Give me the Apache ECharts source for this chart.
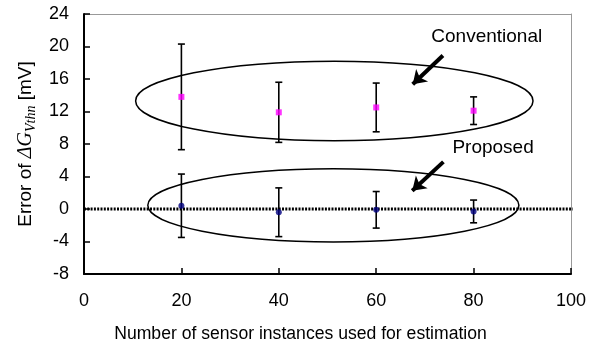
<!DOCTYPE html>
<html>
<head>
<meta charset="utf-8">
<script src="https://cdn.jsdelivr.net/npm/echarts@6/dist/echarts.min.js"></script>
<style>
  html, body { margin: 0; padding: 0; background: #fff; }
  #chart { width: 608px; height: 349px; }
</style>
</head>
<body>
<div id="chart"></div>
<script>
// data
var xCounts = [20, 40, 60, 80];
var convMean = [13.8, 11.9, 12.5, 12.1];
var convErr = [6.5, 3.7, 3.0, 1.7];
var propMean = [0.4, -0.4, -0.1, -0.3];
var propErr = [3.9, 3.0, 2.25, 1.4];

// zero reference line ends
var zeroX = [0, 100.4];
var zeroY = [0, 0];

// ellipses: [cx, cy, rx, ry] in data units
var convEllipse = [51.4, 13.3, 40.8, 4.9];
var propEllipse = [51.2, 0.45, 38.1, 4.5];

// arrows: [x0, y0, x1, y1]
var convArrow = [73.7, 18.9, 67.5, 15.35];
var propArrow = [73.8, 5.8, 67.4, 2.25];

var annoX = [82.7, 84.0];
var annoY = [21.2, 7.5];
var annoText = ['Conventional', 'Proposed'];

var sans = "'Liberation Sans', Arial, sans-serif";
var serif = "'Liberation Serif', 'Times New Roman', serif";

function toPoints(xs, ys)
{
    var out = [];
    for (var i = 0; i < xs.length; i++) out.push([xs[i], ys[i]]);
    return out;
}

function toBars(xs, ys, es)
{
    var out = [];
    for (var i = 0; i < xs.length; i++) out.push([xs[i], ys[i] - es[i], ys[i] + es[i]]);
    return out;
}

function renderBar(params, api)
{
    var lo = api.coord([api.value(0), api.value(1)]);
    var hi = api.coord([api.value(0), api.value(2)]);
    var w = 3.5;
    var st = {stroke: '#000', lineWidth: 1.6};
    return {
        type: 'group',
        children: [
            {type: 'line', shape: {x1: lo[0], y1: lo[1], x2: hi[0], y2: hi[1]}, style: st},
            {type: 'line', shape: {x1: lo[0] - w, y1: lo[1], x2: lo[0] + w, y2: lo[1]}, style: st},
            {type: 'line', shape: {x1: hi[0] - w, y1: hi[1], x2: hi[0] + w, y2: hi[1]}, style: st}
        ]
    };
}

function renderEllipse(params, api)
{
    var c = api.coord([api.value(0), api.value(1)]);
    var s = api.size([api.value(2), api.value(3)]);
    return {
        type: 'ellipse',
        shape: {cx: c[0], cy: c[1], rx: s[0], ry: s[1]},
        style: {fill: 'none', stroke: '#000', lineWidth: 1.5}
    };
}

function renderText(params, api)
{
    var c = api.coord([api.value(0), api.value(1)]);
    return {
        type: 'text',
        x: c[0],
        y: c[1],
        style: {
            text: annoText[params.dataIndex],
            font: '19px ' + sans,
            fill: '#000',
            align: 'center',
            verticalAlign: 'middle'
        }
    };
}

// plain grey frame edge (top / right)
function frameAxis(pos, min, max)
{
    return {
        type: 'value',
        position: pos,
        min: min,
        max: max,
        axisLine: {show: true, onZero: false, lineStyle: {color: '#999', width: 1}},
        axisTick: {show: false},
        axisLabel: {show: false},
        splitLine: {show: false}
    };
}

var myChart = echarts.init(document.getElementById('chart'));

var option = {
    animation: false,
    backgroundColor: '#fff',
    grid: {
        left: 84,
        right: 37,
        top: 14,
        bottom: 75
    },
    xAxis: [
        {
            type: 'value',
            position: 'bottom',
            min: 0,
            max: 100,
            interval: 20,
            name: 'Number of sensor instances used for estimation',
            nameLocation: 'middle',
            nameGap: 51,
            nameTextStyle: {fontSize: 17.6, fontFamily: sans, color: '#000', padding: [0, 54, 0, 0]},
            axisLine: {onZero: false, lineStyle: {color: '#000', width: 2}},
            axisTick: {inside: true, length: 6, lineStyle: {color: '#000', width: 1.5}},
            axisLabel: {fontSize: 18, fontFamily: sans, color: '#000', margin: 18},
            splitLine: {show: false},
            z: 3
        },
        frameAxis('top', 0, 100)
    ],
    yAxis: [
        {
            type: 'value',
            position: 'left',
            min: -8,
            max: 24,
            interval: 4,
            name: '{a|Error of }{g|ΔG}{s|Vthn}{a| [mV]}',
            nameLocation: 'middle',
            nameGap: 46,
            nameTextStyle: {
                color: '#000',
                rich: {
                    a: {fontSize: 19, fontFamily: sans, color: '#000', lineHeight: 24},
                    g: {fontSize: 20, fontFamily: serif, fontStyle: 'italic', color: '#000', lineHeight: 24},
                    s: {fontSize: 14, fontFamily: serif, fontStyle: 'italic', color: '#000', lineHeight: 24, verticalAlign: 'bottom'}
                }
            },
            axisLine: {onZero: false, lineStyle: {color: '#000', width: 2}},
            axisTick: {inside: true, length: 6, lineStyle: {color: '#000', width: 1.5}},
            axisLabel: {fontSize: 18, fontFamily: sans, color: '#000', margin: 15},
            splitLine: {show: false},
            z: 3
        },
        frameAxis('right', -8, 24)
    ],
    series: [
        {
            name: 'ellipses',
            type: 'custom',
            renderItem: renderEllipse,
            data: [convEllipse, propEllipse],
            z: 1
        },
        {
            name: 'zero',
            type: 'line',
            showSymbol: false,
            symbol: 'none',
            silent: true,
            lineStyle: {color: '#000', width: 3, type: [2, 1.3]},
            data: toPoints(zeroX, zeroY),
            z: 2
        },
        {
            name: 'convBars',
            type: 'custom',
            renderItem: renderBar,
            data: toBars(xCounts, convMean, convErr),
            z: 3
        },
        {
            name: 'propBars',
            type: 'custom',
            renderItem: renderBar,
            data: toBars(xCounts, propMean, propErr),
            z: 3
        },
        {
            name: 'Conventional',
            type: 'scatter',
            symbol: 'rect',
            symbolSize: 6,
            itemStyle: {color: '#ff00ff'},
            data: toPoints(xCounts, convMean),
            z: 4
        },
        {
            name: 'Proposed',
            type: 'scatter',
            symbol: 'circle',
            symbolSize: 6,
            itemStyle: {color: '#000080'},
            data: toPoints(xCounts, propMean),
            z: 4
        },
        {
            name: 'arrows',
            type: 'lines',
            coordinateSystem: 'cartesian2d',
            symbol: ['none', 'arrow'],
            symbolSize: 13,
            lineStyle: {color: '#000', width: 4, opacity: 1},
            data: [
                {coords: [[convArrow[0], convArrow[1]], [convArrow[2], convArrow[3]]]},
                {coords: [[propArrow[0], propArrow[1]], [propArrow[2], propArrow[3]]]}
            ],
            z: 5
        },
        {
            name: 'notes',
            type: 'custom',
            renderItem: renderText,
            data: toPoints(annoX, annoY),
            z: 5
        }
    ]
};

myChart.setOption(option);
</script>
</body>
</html>
